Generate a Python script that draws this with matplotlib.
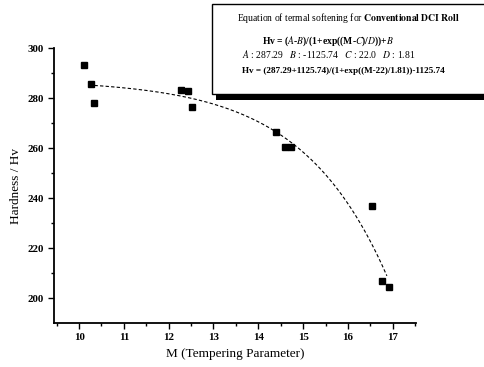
import numpy as np
import matplotlib.pyplot as plt
from matplotlib.patches import Rectangle

plt.rcParams['font.family'] = ['Liberation Serif', 'DejaVu Serif']
plt.rcParams['mathtext.fontset'] = 'stix'

# measured points
M_data = [10.11, 10.26, 10.34, 12.27, 12.43, 12.53, 14.40, 14.60, 14.73, 16.54, 16.77, 16.91]
Hv_data = [293.3, 285.7, 278.0, 283.3, 282.9, 276.4, 266.5, 260.5, 260.5, 237.0, 206.9, 204.4]

# fitted parameters (from the equation box)
A, B, C, D = 287.29, -1125.74, 22.0, 1.81
M_fit_range = (10.22, 16.87)

fig = plt.figure(figsize=(4.84, 3.67), dpi=100)
ax = fig.add_axes([54/484, (367-323)/367, (416-54)/484, (323-48)/367])

M_fit = np.linspace(M_fit_range[0], M_fit_range[1], 200)
Hv_fit = (A - B) / (1 + np.exp((M_fit - C) / D)) + B
ax.plot(M_fit, Hv_fit, color='black', lw=0.8, linestyle=(0, (3, 2)))
ax.plot(M_data, Hv_data, 's', color='black', ms=4.5)

ax.set_xlim(9.44, 17.52)
ax.set_ylim(190, 300)
ax.set_xticks(range(10, 18))
ax.set_xticks(np.arange(9.5, 17.6, 1.0), minor=True)
ax.set_yticks(range(200, 301, 20))
ax.set_yticks(range(210, 300, 20), minor=True)
for s in ['top', 'right']:
    ax.spines[s].set_visible(False)
for s in ['left', 'bottom']:
    ax.spines[s].set_linewidth(1.3)
ax.tick_params(which='major', length=4, width=1, labelsize=7.8)
ax.tick_params(which='minor', length=2, width=1)
for lab in ax.get_xticklabels() + ax.get_yticklabels():
    lab.set_fontweight('bold')

ax.set_xlabel('M (Tempering Parameter)', fontsize=9.5)
ax.set_ylabel('Hardness / Hv', fontsize=9.5)

# equation box with shadow
W, H = 484, 367
def fx(px): return px / W
def fy(py): return 1 - py / H
fig.patches.append(Rectangle((fx(216), fy(100)), fx(300), fy(4) - fy(100),
                             transform=fig.transFigure, facecolor='black',
                             edgecolor='none', zorder=5))
fig.patches.append(Rectangle((fx(212), fy(94)), fx(300), fy(4) - fy(94),
                             transform=fig.transFigure, facecolor='white',
                             edgecolor='black', lw=1, zorder=6))
fig.text(fx(237), fy(18), r'Equation of termal softening for $\mathbf{Conventional\ DCI\ Roll}$',
         fontsize=6.9, va='center', ha='left', zorder=7)
fig.text(fx(262), fy(41), r'Hv = ($\mathit{A}$-$\mathit{B}$)/(1+exp((M-$\mathit{C}$)/$\mathit{D}$))+$\mathit{B}$',
         fontsize=6.9, va='center', ha='left', fontweight='bold', zorder=7)
fig.text(fx(242), fy(54), r'$\mathit{A}$ : 287.29   $\mathit{B}$ : -1125.74   $\mathit{C}$ : 22.0   $\mathit{D}$ : 1.81',
         fontsize=6.9, va='center', ha='left', zorder=7)
fig.text(fx(242), fy(71), 'Hv = (287.29+1125.74)/(1+exp((M-22)/1.81))-1125.74',
         fontsize=6.6, va='center', ha='left', fontweight='bold', zorder=7)

plt.savefig('out.png', dpi=100)
